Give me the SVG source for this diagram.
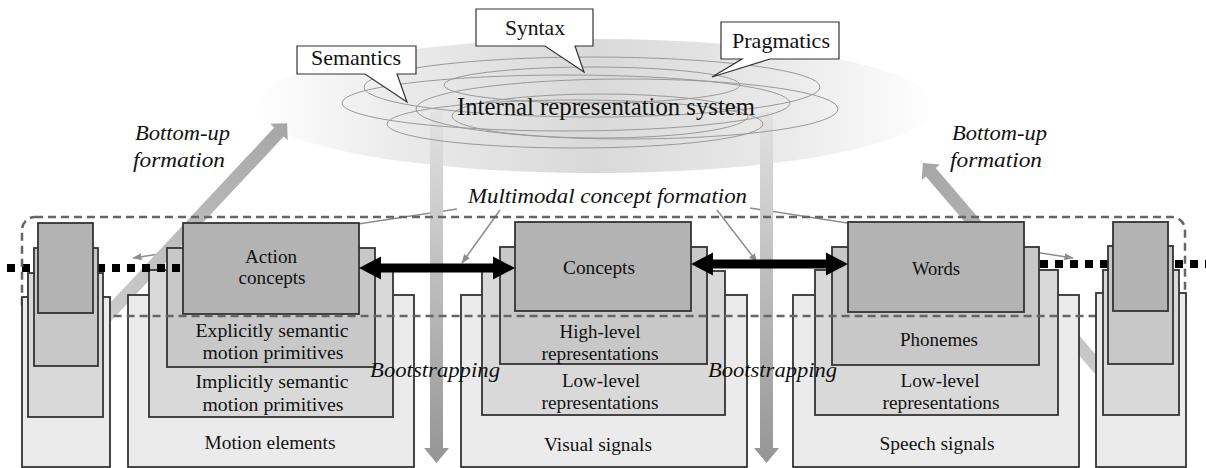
<svg xmlns="http://www.w3.org/2000/svg" width="1206" height="468" viewBox="0 0 1206 468" font-family="'Liberation Serif', 'DejaVu Serif', 'Times New Roman', serif">
<defs>
<style>
text{font-family:'Liberation Serif','DejaVu Serif','Times New Roman',serif;fill:#111;}
.bt{font-size:19.5px;text-anchor:middle;}
.it{font-style:italic;font-size:22px;}
.co{font-size:22px;text-anchor:middle;}
.c1{fill:#ebebeb;stroke:#333;stroke-width:1.8;}
.c2{fill:#d9d9d9;stroke:#333;stroke-width:1.8;}
.c3{fill:#c8c8c8;stroke:#333;stroke-width:1.8;}
.c4{fill:#b3b3b3;stroke:#333;stroke-width:1.8;}
.orb{fill:none;stroke:#9a9a9a;stroke-width:1;}
.thin{fill:none;stroke:#8c8c8c;stroke-width:1.5;}
.callout{fill:#fff;stroke:#333;stroke-width:1.2;}
.dots{fill:none;stroke:#000;stroke-width:8;stroke-dasharray:8 7;}
</style>
<linearGradient id="cloud" x1="255" y1="0" x2="935" y2="0" gradientUnits="userSpaceOnUse">
<stop offset="0" stop-color="#fff"/>
<stop offset="0.22" stop-color="#eaeaea"/>
<stop offset="0.5" stop-color="#d9d9d9"/>
<stop offset="0.78" stop-color="#eaeaea"/>
<stop offset="1" stop-color="#fff"/>
</linearGradient>
<linearGradient id="vgrad" x1="0" y1="112" x2="0" y2="463" gradientUnits="userSpaceOnUse">
<stop offset="0" stop-color="#e2e2e2"/>
<stop offset="1" stop-color="#959595"/>
</linearGradient>
<linearGradient id="dgrad" x1="0" y1="0" x2="1" y2="0">
<stop offset="0" stop-color="#cfcfcf"/>
<stop offset="1" stop-color="#a6a6a6"/>
</linearGradient>
<marker id="ga" markerWidth="9" markerHeight="7" refX="8.5" refY="3.5" orient="auto" markerUnits="userSpaceOnUse">
<path d="M0,0 L9,3.5 L0,7 Z" fill="#8c8c8c"/>
</marker>
</defs>

<g id="cloud-bg">
<ellipse cx="595" cy="106" rx="340" ry="67" fill="url(#cloud)"/>
</g>

<g id="connectors">
<g id="multimodal-lines">
<line class="thin" x1="457" y1="209" x2="133" y2="258" marker-end="url(#ga)"/>
<line class="thin" x1="500" y1="210" x2="462" y2="263" marker-end="url(#ga)"/>
<line class="thin" x1="717" y1="210" x2="757" y2="262" marker-end="url(#ga)"/>
<line class="thin" x1="750" y1="208" x2="1073" y2="258" marker-end="url(#ga)"/>
</g>
<g id="bootstrapping-arrows">
<path d="M430,112 H443 V448 H449 L436.5,463 L424,448 H430 Z" fill="url(#vgrad)"/>
<path d="M760,112 H773 V448 H779 L766.5,463 L754,448 H760 Z" fill="url(#vgrad)"/>
</g>
<g id="bottom-up-arrows">
<path transform="translate(89,335) rotate(-46.9)" d="M0,-6.5 H278 V-12 L290,0 L278,12 V6.5 H0 Z" fill="url(#dgrad)"/>
<path transform="translate(1126,400) rotate(-130.6)" d="M0,-6.5 H300 V-12 L312,0 L300,12 V6.5 H0 Z" fill="url(#dgrad)"/>
</g>
</g>

<g id="internal-representation-system">
<ellipse class="orb" cx="592" cy="87" rx="228" ry="30"/>
<ellipse class="orb" cx="592" cy="85" rx="148" ry="18"/>
<ellipse class="orb" cx="566" cy="103" rx="224" ry="28"/>
<ellipse class="orb" cx="627" cy="109" rx="211" ry="30"/>
<ellipse class="orb" cx="575" cy="124" rx="188" ry="24"/>
<ellipse class="orb" cx="600" cy="116" rx="148" ry="22"/>
<text x="457" y="115" font-size="25" textLength="298" lengthAdjust="spacingAndGlyphs">Internal representation system</text>
</g>

<g id="callout-semantics">
<path class="callout" d="M297,46 H416 V74 H397 L407,102 L365,74 H297 Z"/>
<text class="co" x="356" y="65" textLength="90" lengthAdjust="spacingAndGlyphs">Semantics</text>
</g>
<g id="callout-syntax">
<path class="callout" d="M476,9 H593 V46 H575 L584,72 L545,46 H476 Z"/>
<text class="co" x="535" y="35" textLength="60" lengthAdjust="spacingAndGlyphs">Syntax</text>
</g>
<g id="callout-pragmatics">
<path class="callout" d="M721,22 H839 V59 H770 L712,77 L742,59 H721 Z"/>
<text class="co" x="781" y="48" textLength="98" lengthAdjust="spacingAndGlyphs">Pragmatics</text>
</g>

<g id="motion-stack">
<rect class="c1" x="128" y="295" width="286" height="172"/>
<rect class="c2" x="149" y="270" width="244" height="147"/>
<rect class="c3" x="167" y="248" width="208" height="119"/>
<rect class="c4" x="183" y="223" width="176" height="91"/>
</g>
<g id="visual-stack">
<rect class="c1" x="461" y="295" width="286" height="172"/>
<rect class="c2" x="482" y="271" width="243" height="144"/>
<rect class="c3" x="500" y="247" width="207" height="117"/>
<rect class="c4" x="515" y="222" width="176" height="89"/>
</g>
<g id="speech-stack">
<rect class="c1" x="793" y="295" width="286" height="172"/>
<rect class="c2" x="815" y="270" width="243" height="145"/>
<rect class="c3" x="832" y="247" width="207" height="118"/>
<rect class="c4" x="848" y="222" width="176" height="90"/>
</g>

<g id="dotted-lines">
<line class="dots" x1="7" y1="268" x2="181" y2="268"/>
<line class="dots" x1="1040" y1="264" x2="1206" y2="264"/>
</g>

<g id="multimodal-region">
<rect x="22" y="217" width="1163" height="99" rx="13" ry="13" fill="none" stroke="#666" stroke-width="2.5" stroke-dasharray="8 5"/>
</g>

<g id="left-stack">
<rect class="c1" x="22" y="297" width="88" height="170"/>
<rect class="c2" x="28" y="273" width="75" height="144"/>
<rect class="c3" x="34" y="248" width="64" height="118"/>
<rect class="c4" x="38" y="223" width="55" height="90"/>
</g>
<g id="right-stack">
<rect class="c1" x="1096" y="293" width="90" height="174"/>
<rect class="c2" x="1103" y="270" width="76" height="145"/>
<rect class="c3" x="1108" y="246" width="65" height="118"/>
<rect class="c4" x="1113" y="222" width="55" height="89"/>
</g>

<g id="double-arrows">
<path d="M359,268 L381,256.5 V263.5 H493 V256.5 L515,268 L493,279.5 V272.5 H381 V279.5 Z" fill="#000"/>
<path d="M691,264 L713,252.5 V259.5 H826 V252.5 L848,264 L826,275.5 V268.5 H713 V275.5 Z" fill="#000"/>
</g>

<g id="labels">
<text class="it" x="135" y="140" textLength="95" lengthAdjust="spacingAndGlyphs">Bottom-up</text>
<text class="it" x="133" y="167" textLength="92" lengthAdjust="spacingAndGlyphs">formation</text>
<text class="it" x="952" y="140" textLength="95" lengthAdjust="spacingAndGlyphs">Bottom-up</text>
<text class="it" x="950" y="167" textLength="92" lengthAdjust="spacingAndGlyphs">formation</text>
<text class="it" x="468" y="203" font-size="23" textLength="279" lengthAdjust="spacingAndGlyphs">Multimodal concept formation</text>
<text class="it" x="370" y="377" textLength="130" lengthAdjust="spacingAndGlyphs">Bootstrapping</text>
<text class="it" x="708" y="377" textLength="129" lengthAdjust="spacingAndGlyphs">Bootstrapping</text>
</g>

<g id="motion-labels">
<text class="bt" x="271" y="263" textLength="52" lengthAdjust="spacingAndGlyphs">Action</text>
<text class="bt" x="272" y="284" textLength="67" lengthAdjust="spacingAndGlyphs">concepts</text>
<text class="bt" x="272" y="337" textLength="153" lengthAdjust="spacingAndGlyphs">Explicitly semantic</text>
<text class="bt" x="273" y="359" textLength="141" lengthAdjust="spacingAndGlyphs">motion primitives</text>
<text class="bt" x="272" y="388" textLength="153" lengthAdjust="spacingAndGlyphs">Implicitly semantic</text>
<text class="bt" x="273" y="411" textLength="141" lengthAdjust="spacingAndGlyphs">motion primitives</text>
<text class="bt" x="270" y="449" textLength="131" lengthAdjust="spacingAndGlyphs">Motion elements</text>
</g>
<g id="visual-labels">
<text class="bt" x="599" y="274" textLength="72" lengthAdjust="spacingAndGlyphs">Concepts</text>
<text class="bt" x="600" y="338" textLength="81" lengthAdjust="spacingAndGlyphs">High-level</text>
<text class="bt" x="600" y="360" textLength="117" lengthAdjust="spacingAndGlyphs">representations</text>
<text class="bt" x="601" y="387" textLength="78" lengthAdjust="spacingAndGlyphs">Low-level</text>
<text class="bt" x="600" y="409" textLength="117" lengthAdjust="spacingAndGlyphs">representations</text>
<text class="bt" x="598" y="451" textLength="108" lengthAdjust="spacingAndGlyphs">Visual signals</text>
</g>
<g id="speech-labels">
<text class="bt" x="936" y="275" textLength="48" lengthAdjust="spacingAndGlyphs">Words</text>
<text class="bt" x="939" y="346" textLength="78" lengthAdjust="spacingAndGlyphs">Phonemes</text>
<text class="bt" x="940" y="387" textLength="79" lengthAdjust="spacingAndGlyphs">Low-level</text>
<text class="bt" x="941" y="409" textLength="117" lengthAdjust="spacingAndGlyphs">representations</text>
<text class="bt" x="937" y="450" textLength="115" lengthAdjust="spacingAndGlyphs">Speech signals</text>
</g>
</svg>
